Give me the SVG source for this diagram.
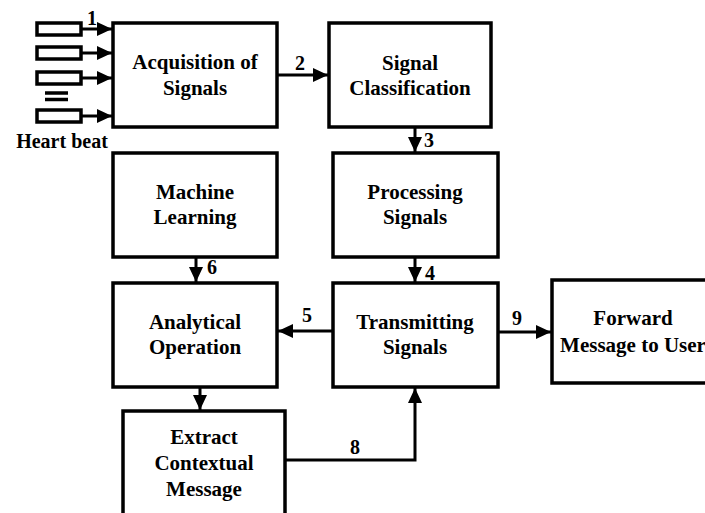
<svg xmlns="http://www.w3.org/2000/svg" width="705" height="513" viewBox="0 0 705 513">
<defs>
<marker id="ah" markerUnits="userSpaceOnUse" markerWidth="16" markerHeight="14" refX="15" refY="7" orient="auto">
<path d="M0,0 L15,7 L0,14 z" fill="#000"/>
</marker>
<style>
.box{fill:#fff;stroke:#000;stroke-width:3.5}
.hb{fill:#fff;stroke:#000;stroke-width:3.5}
.ln{fill:none;stroke:#000;stroke-width:3.5}
.ar{fill:none;stroke:#000;stroke-width:3;marker-end:url(#ah)}
text{font-family:"Liberation Serif","Times New Roman",serif;font-weight:bold;font-size:21px;fill:#000;text-anchor:middle}
.num{font-size:20px}
</style>
</defs>
<rect width="705" height="513" fill="#fff"/>

<g id="heartbeat">
<rect class="hb" x="37" y="23" width="44" height="12"/>
<rect class="hb" x="37" y="47" width="44" height="12"/>
<rect class="hb" x="37" y="72" width="44" height="12"/>
<line class="ln" x1="45" y1="93" x2="68" y2="93"/>
<line class="ln" x1="45" y1="99.5" x2="68" y2="99.5"/>
<rect class="hb" x="37" y="110" width="44" height="12"/>
<text x="62" y="148" style="font-size:20px">Heart beat</text>
</g>

<g id="acquisition">
<rect class="box" x="113" y="23" width="164" height="104"/>
<text x="195" y="69">Acquisition of</text>
<text x="195" y="95">Signals</text>
</g>

<g id="classification">
<rect class="box" x="329" y="23" width="162" height="104"/>
<text x="410" y="70">Signal</text>
<text x="410" y="95">Classification</text>
</g>

<g id="machine">
<rect class="box" x="113" y="153" width="164" height="104"/>
<text x="195" y="199">Machine</text>
<text x="195" y="224">Learning</text>
</g>

<g id="processing">
<rect class="box" x="333" y="153" width="165" height="104"/>
<text x="415" y="199">Processing</text>
<text x="415" y="224">Signals</text>
</g>

<g id="analytical">
<rect class="box" x="113" y="283" width="164" height="104"/>
<text x="195" y="329">Analytical</text>
<text x="195" y="354">Operation</text>
</g>

<g id="transmitting">
<rect class="box" x="333" y="283" width="165" height="104"/>
<text x="415" y="329">Transmitting</text>
<text x="415" y="354">Signals</text>
</g>

<g id="forward">
<rect class="box" x="552" y="280" width="164" height="103"/>
<text x="633" y="325">Forward</text>
<text x="633" y="352">Message to User</text>
</g>

<g id="extract">
<rect class="box" x="123" y="411" width="162" height="120"/>
<text x="204" y="444">Extract</text>
<text x="204" y="470">Contextual</text>
<text x="204" y="496">Message</text>
</g>

<g id="connectors">
<line class="ar" x1="81" y1="29" x2="112" y2="29"/>
<line class="ar" x1="81" y1="53" x2="112" y2="53"/>
<line class="ar" x1="81" y1="78" x2="112" y2="78"/>
<line class="ar" x1="81" y1="116" x2="112" y2="116"/>
<line class="ar" x1="277" y1="75" x2="328" y2="75"/>
<line class="ar" x1="415" y1="127" x2="415" y2="152"/>
<line class="ar" x1="196" y1="257" x2="196" y2="282"/>
<line class="ar" x1="415" y1="257" x2="415" y2="282"/>
<line class="ar" x1="333" y1="331" x2="278" y2="331"/>
<line class="ar" x1="200" y1="387" x2="200" y2="410"/>
<polyline class="ar" points="285,460 415,460 415,388"/>
<line class="ar" x1="498" y1="332" x2="551" y2="332"/>
<text class="num" x="92" y="25">1</text>
<text class="num" x="300" y="70">2</text>
<text class="num" x="429" y="147">3</text>
<text class="num" x="430" y="280">4</text>
<text class="num" x="307" y="322">5</text>
<text class="num" x="212" y="274">6</text>
<text class="num" x="355" y="454">8</text>
<text class="num" x="517" y="325">9</text>
</g>
</svg>
